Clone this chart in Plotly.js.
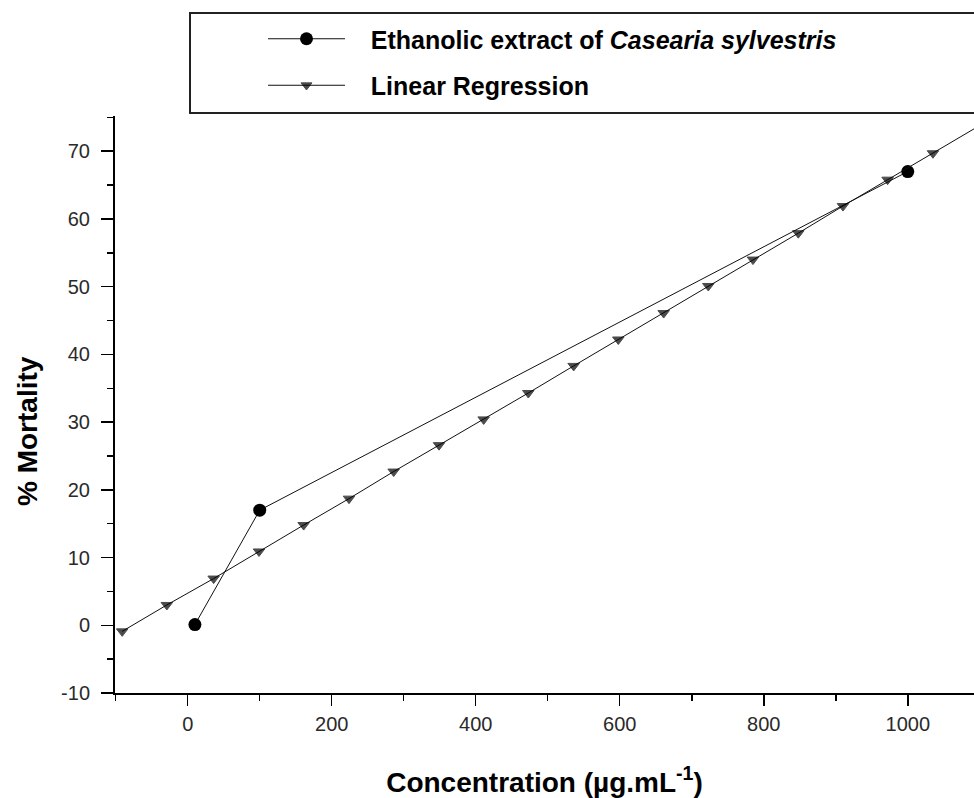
<!DOCTYPE html>
<html>
<head>
<meta charset="utf-8">
<script src="https://cdn.plot.ly/plotly-3.0.1.min.js"></script>
<style>html,body{margin:0;padding:0;background:#fff;}#chart{width:974px;height:798px;}</style>
</head>
<body>
<div id="chart"></div>
<script>
// Ethanolic extract measurements
const extractConc = [10, 100, 1000];
const extractMort = [0.1, 17.0, 67.0];

// Linear regression curve (last point runs off the right edge)
const regConc = [-91, -29, 36, 99, 161, 224, 286, 349, 411, 473, 536, 598, 661, 723, 785, 848, 910, 972, 1035, 1100];
const regMort = [-0.9, 3.0, 6.9, 10.9, 14.8, 18.7, 22.7, 26.6, 30.4, 34.3, 38.3, 42.2, 46.1, 50.1, 54.0, 57.9, 61.9, 65.8, 69.7, 73.8];

// Tick labels
const xTickVals = [0, 200, 400, 600, 800, 1000];
const xTickText = ['0', '200', '400', '600', '800', '1000'];
const yTickVals = [-10, 0, 10, 20, 30, 40, 50, 60, 70];
const yTickText = ['-10', '0', '10', '20', '30', '40', '50', '60', '70'];

const seriesNames = ['\u00a0\u00a0\u00a0Ethanolic extract of <i>Casearia sylvestris</i>', '\u00a0\u00a0\u00a0Linear Regression'];
const xTitle = 'Concentration (µg.mL<sup>-1</sup>)';
const yTitle = '% Mortality';

const regMarkerSizes = regConc.map((x, i) => i === regConc.length - 1 ? 0 : 10);

const traces = [
  {
    x: extractConc, y: extractMort, name: seriesNames[0], type: 'scatter', mode: 'lines+markers',
    line: {color: '#111', width: 1},
    marker: {symbol: 'circle', size: 13, color: '#000'},
    legendgroup: 'a'
  },
  {
    x: regConc, y: regMort, name: seriesNames[1], type: 'scatter', mode: 'lines+markers',
    line: {color: '#111', width: 1},
    marker: {symbol: 'triangle-down', size: regMarkerSizes, color: '#000', line: {color: '#000', width: 1}},
    legendgroup: 'b'
  }
];

const tickFont = {family: '"Liberation Sans", Arial, sans-serif', size: 20, color: '#2a2a2a'};
const titleFont = {family: '"Liberation Sans", Arial, sans-serif', size: 28, color: '#000', weight: 'bold'};

const layout = {
  width: 974, height: 798,
  margin: {l: 115, r: 0, t: 116, b: 105, autoexpand: false},
  paper_bgcolor: '#fff', plot_bgcolor: '#fff',
  showlegend: true,
  legend: {
    xref: 'container', yref: 'container',
    x: 263/974, y: 1 - 16/798, xanchor: 'left', yanchor: 'top',
    bgcolor: 'rgba(0,0,0,0)', borderwidth: 0,
    font: {family: '"Liberation Sans", Arial, sans-serif', size: 25, color: '#000', weight: 'bold'},
    itemwidth: 77, traceorder: 'grouped', tracegroupgap: 11
  },
  xaxis: {
    range: [-101, 1092], showgrid: false, zeroline: false,
    showline: true, linecolor: '#000', linewidth: 2,
    ticks: 'outside', ticklen: 11, tickwidth: 1.5, tickcolor: '#000',
    tickmode: 'array', tickvals: xTickVals, ticktext: xTickText, tickangle: 0,
    tickfont: tickFont, ticklabelstandoff: 1,
    minor: {ticks: 'outside', ticklen: 6, tickwidth: 1.5, tickcolor: '#000', dtick: 100, tick0: 0},
    title: {text: xTitle, font: titleFont, standoff: 38}
  },
  yaxis: {
    range: [-10, 75.2], showgrid: false, zeroline: false,
    showline: true, linecolor: '#000', linewidth: 2,
    ticks: 'outside', ticklen: 12, tickwidth: 1.5, tickcolor: '#000',
    tickmode: 'array', tickvals: yTickVals, ticktext: yTickText,
    tickfont: tickFont, ticklabelstandoff: 7,
    minor: {ticks: 'outside', ticklen: 6, tickwidth: 1.5, tickcolor: '#000', dtick: 5, tick0: 0}
  },
  annotations: [
    {text: yTitle, textangle: -90, xref: 'paper', yref: 'paper',
     x: (27-115)/859, y: (693-431)/577, xanchor: 'center', yanchor: 'middle',
     showarrow: false, font: titleFont}
  ],
  shapes: [
    {type: 'rect', xref: 'paper', yref: 'paper',
     x0: (190-115)/859, x1: 1.02, y0: (693-113)/577, y1: (693-13)/577,
     line: {color: '#222', width: 2}, fillcolor: 'rgba(0,0,0,0)', layer: 'above'}
  ]
};

Plotly.newPlot('chart', traces, layout, {displayModeBar: false, staticPlot: true});
</script>
</body>
</html>
